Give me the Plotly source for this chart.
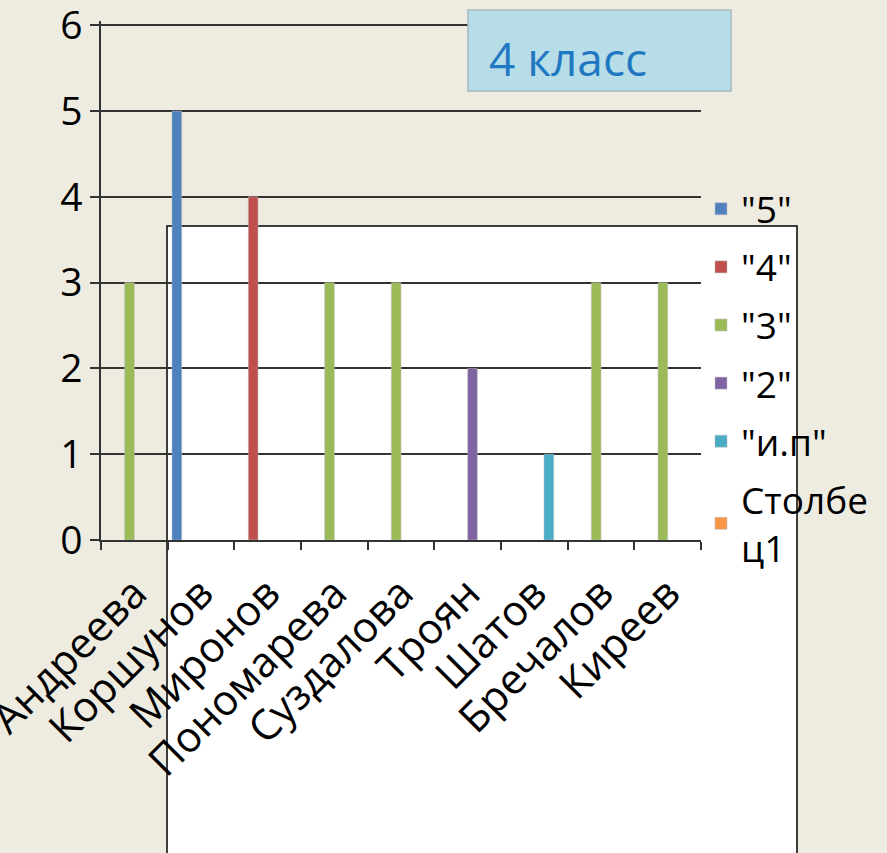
import plotly.graph_objects as go

categories = ["Андреева", "Коршунов", "Миронов", "Пономарева", "Суздалова",
              "Троян", "Шатов", "Бречалов", "Киреев"]
series_names = ['"5"', '"4"', '"3"', '"2"', '"и.п"', "Столбе<br>ц1"]
grade5 = [None, 5, None, None, None, None, None, None, None]
grade4 = [None, None, 4, None, None, None, None, None, None]
grade3 = [3, None, None, 3, 3, None, None, 3, 3]
grade2 = [None, None, None, None, None, 2, None, None, None]
grade_ip = [None, None, None, None, None, None, 1, None, None]
column1 = [None, None, None, None, None, None, None, None, None]
y_ticks = [0, 1, 2, 3, 4, 5, 6]
colors = ["#4F81BD", "#C0504D", "#9BBB59", "#8064A2", "#4BACC6", "#F79646"]

FONT = "Open Sans"
BG = "#EEECE1"

fig = go.Figure()
for i, (name, vals) in enumerate(zip(series_names,
                                     [grade5, grade4, grade3, grade2, grade_ip, column1])):
    fig.add_trace(go.Bar(
        x=categories, y=vals, name=name, legendgroup=f"g{i}",
        marker=dict(color=colors[i], line=dict(width=0.5, color="#bbbbbb")),
    ))

fig.update_layout(
    width=887, height=853,
    margin=dict(l=101, r=186, t=21, b=313, autoexpand=False),
    paper_bgcolor=BG, plot_bgcolor="rgba(0,0,0,0)",
    barmode="group", bargap=0.13, bargroupgap=0,
    font=dict(family=FONT, color="#000000"),
    showlegend=True,
    legend=dict(x=1.0, xanchor="left", y=0.697, yanchor="top",
                font=dict(family=FONT, size=37), tracegroupgap=7,
                bgcolor="rgba(0,0,0,0)", itemwidth=30),
    xaxis=dict(showline=True, linecolor="#333333", linewidth=1.5,
               ticks="outside", ticklen=8, tickcolor="#333333", tickwidth=1.5,
               tickson="boundaries", tickangle=-45, automargin=False,
               ticklabelstandoff=10, ticklabeloverflow="allow",
               tickfont=dict(family=FONT, size=42), showgrid=False),
    yaxis=dict(range=[0, 6.05], tickvals=y_ticks, showline=True, automargin=False,
               linecolor="#333333", linewidth=1.5, ticklabeloverflow="allow",
               ticks="outside", ticklen=9, tickcolor="#333333", tickwidth=1.5,
               tickfont=dict(family=FONT, size=39),
               showgrid=True, gridcolor="#333333", gridwidth=1.5, zeroline=False),
    shapes=[
        dict(type="rect", xref="paper", yref="paper",
             x0=(167 - 101) / 600, x1=(797 - 101) / 600,
             y0=(540 - 856) / 519, y1=(540 - 226) / 519,
             fillcolor="#FFFFFF", line=dict(color="#000000", width=1.5), layer="below"),
        dict(type="rect", xref="paper", yref="paper",
             x0=(468 - 101) / 600, x1=(731 - 101) / 600,
             y0=(540 - 91) / 519, y1=(540 - 10) / 519,
             fillcolor="#B7DDE8", line=dict(color="#A6B9C0", width=1.5), layer="above"),
    ],
    annotations=[
        dict(text="4 класс", xref="paper", yref="paper",
             x=(487 - 101) / 600, y=(540 - 58) / 519, xanchor="left", yanchor="middle",
             showarrow=False, font=dict(family=FONT, size=46, color="#1F78C1")),
    ],
)

fig.write_html("out.html", config={"displayModeBar": False},
               post_script="document.body.style.margin='0';")
